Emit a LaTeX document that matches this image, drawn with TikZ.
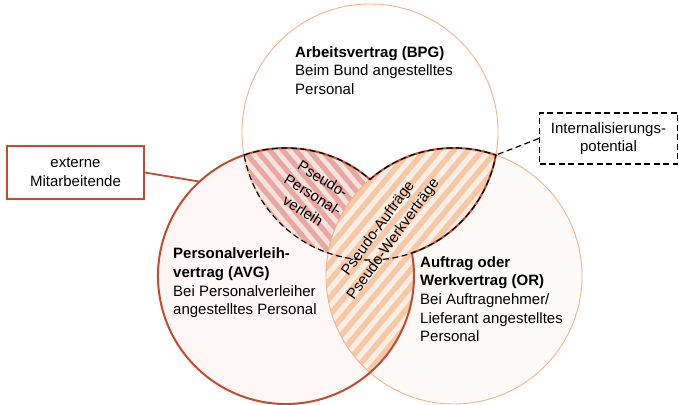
\documentclass[tikz,border=0pt]{standalone}
\usepackage{fontspec}
\setmainfont{Liberation Sans}
\usetikzlibrary{calc}
\definecolor{thinor}{RGB}{242,180,140}
\definecolor{redline}{RGB}{196,74,48}
\definecolor{lfill}{RGB}{254,247,246}
\definecolor{rfill}{RGB}{254,250,247}
\definecolor{pinkbg}{RGB}{248,226,221}
\definecolor{pinkst}{RGB}{230,168,160}
\definecolor{orbg}{RGB}{253,238,227}
\definecolor{orst}{RGB}{246,200,166}
\begin{document}
\begin{tikzpicture}[x=1pt,y=1pt,
  txt/.style={font=\fontsize{15}{18.7}\selectfont, inner sep=0pt},
  lbl/.style={txt, align=left, anchor=north west},
  rottxt/.style={txt, align=center},
  thincirc/.style={draw=thinor, line width=0.9pt},
  redbound/.style={draw=redline, line width=2pt, line join=round},
  dashbound/.style={draw=black, line width=1.2pt, dash pattern=on 6pt off 3.5pt},
  orstripe/.style={orst, line width=5.5pt},
  pinkstripe/.style={pinkst, line width=5pt}]
\useasboundingbox (0,0) rectangle (679,404);
\fill[white] (0,0) rectangle (679,404);
\def\circT{(370,272) circle[radius=128pt]}
\def\circL{(286,128) circle[radius=128pt]}
\def\circR{(454,128) circle[radius=128pt]}
\coordinate (Tc) at (370,272);
\coordinate (Lc) at (286,128);
\coordinate (Rc) at (454,128);
\coordinate (S1) at (370,224.58);
\coordinate (P2) at (244.09,248.95);
\coordinate (Q1) at (495.91,248.95);
\coordinate (extpt) at ([shift={(132.5:128pt)}]Lc);
% base fills
\fill[lfill] \circL;
\fill[rfill] \circR;
\fill[white] \circT;
% pseudo-personalverleih (T and L)
\begin{scope}
  \clip \circT;
  \clip \circL;
  \fill[pinkbg] (0,0) rectangle (679,404);
  \begin{scope}[rotate around={-50:(328,200)}]
    \foreach \k in {-25,...,25}
      \draw[pinkstripe] (-22,200+\k*10) -- (678,200+\k*10);
  \end{scope}
\end{scope}
% orange region: R and (T or L)
\def\orstripes{%
  \fill[orbg] (0,0) rectangle (679,404);
  \begin{scope}[rotate around={50:(412,170)}]
    \foreach \k in {-30,...,30}
      \draw[orstripe] (62,170+\k*11) -- (762,170+\k*11);
  \end{scope}}
\begin{scope}
  \clip \circR;
  \begin{scope}\clip \circT; \orstripes \end{scope}
  \begin{scope}\clip \circL; \orstripes \end{scope}
\end{scope}
% thin outlines
\draw[thincirc] \circT;
\draw[thincirc] \circR;
% red boundary: L union (T and R)
\draw[redbound] (S1) arc[start angle=131.01, end angle=70.89, radius=128pt]
  arc[start angle=-10.37, end angle=-70.89, radius=128pt]
  arc[start angle=10.37, end angle=-311.01, radius=128pt] -- cycle;
% dashed boundary: T and (L or R)
\draw[dashbound] (P2) arc[start angle=109.11, end angle=48.99, radius=128pt]
  arc[start angle=131.01, end angle=70.89, radius=128pt]
  arc[start angle=-10.37, end angle=-169.63, radius=128pt] -- cycle;
% labels
\node[lbl] (bpg) at (295,358) {\textbf{Arbeitsvertrag (BPG)}\\Beim Bund angestelltes\\Personal};
\node[lbl] (avg) at (173,156.3) {\textbf{Personalverleih-}\\\textbf{vertrag (AVG)}\\Bei Personalverleiher\\angestelltes Personal};
\node[lbl] (or) at (420,148) {\textbf{Auftrag oder}\\\textbf{Werkvertrag (OR)}\\Bei Auftragnehmer/\\Lieferant angestelltes\\Personal};
\node[rottxt, rotate=-32] (ppv) at (313,209) {Pseudo-\\Personal-\\verleih};
\node[rottxt, rotate=54] (pwv) at (386,170) {Pseudo-Aufträge\\Pseudo-Werkverträge};
% boxes
\node[txt, align=center, draw=redline, line width=1.8pt, minimum width=137pt, minimum height=53pt, fill=white] (ext) at (75.5,231.5) {externe\\Mitarbeitende};
\node[txt, align=center, draw=black, line width=1.2pt, dash pattern=on 6pt off 3.5pt, minimum width=138pt, minimum height=51pt, fill=white] (intl) at (608.5,265.5) {Internalisierungs-\\potential};
\draw[redline, line width=1.8pt] (ext.east) -- (extpt);
\draw[dashbound] (intl.west) -- (Q1);
\end{tikzpicture}
\end{document}
